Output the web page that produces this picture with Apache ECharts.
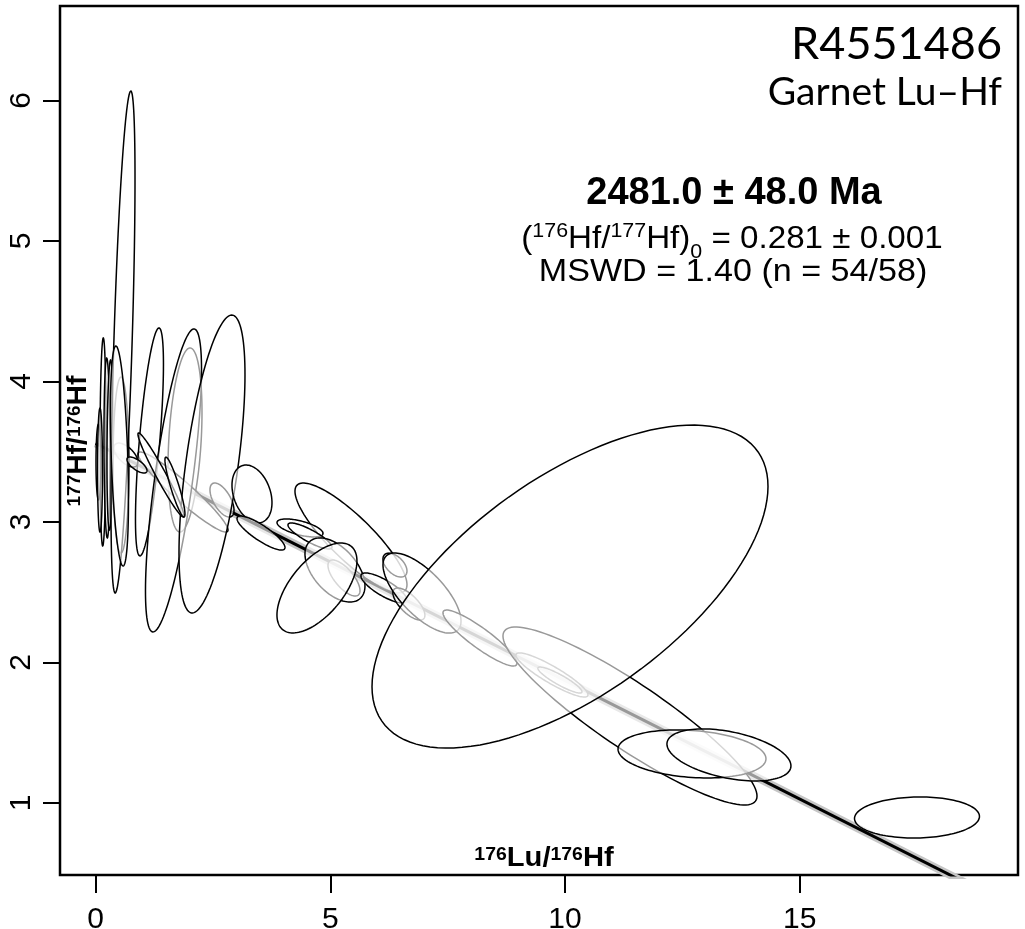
<!DOCTYPE html>
<html><head><meta charset="utf-8">
<script src="https://cdn.jsdelivr.net/npm/echarts@6/dist/echarts.min.js"></script>
<style>html,body{margin:0;padding:0;background:#fff}#c{width:1025px;height:929px}</style>
</head><body><div id="c"></div>
<script>
// tick values
const xTicks = [0, 5, 10, 15];
const yTicks = [1, 2, 3, 4, 5, 6];
// isochron line end points
const isoX = [0, 18.6];
const isoY = [3.559, 0.421];
// error ellipses: centre, half-extent in x and y, correlation (drawing order)
const ellX   = [0.648,0.541,1.905,1.862,2.693, 0.158,0.243,0.062,0.094,0.307, 0.584,0.509,1.148,1.660,2.480, 0.882,1.393,1.691, 5.441,3.332,3.524,4.355,4.568,5.292,5.100,4.716,6.144,6.378,6.675,6.954, 8.189,9.723,9.893,11.385,10.107,12.706,13.493,17.499];
const ellY   = [3.476,3.405,3.583,3.213,3.156, 3.569,3.526,3.426,3.369,3.547, 4.280,3.469,3.569,3.295,3.412, 3.405,3.334,3.248, 2.886,3.199,2.921,2.957,2.900,2.601,2.658,2.530,2.530,2.693,2.416,2.494, 2.174,1.911,1.875,1.619,2.540,1.349,1.342,0.897];
const ellSX  = [0.256,0.170,0.362,0.959,0.256, 0.064,0.064,0.053,0.053,0.064, 0.256,0.192,0.298,0.597,0.703, 0.213,0.490,0.213, 1.193,0.426,0.511,0.490,0.469,0.341,0.639,0.852,0.490,0.256,0.341,0.831, 0.788,0.767,0.469,2.706,4.218,1.576,1.321,1.331];
const ellSY  = [0.085,0.626,0.655,0.285,0.121, 0.740,0.640,0.270,0.441,0.605, 1.786,0.783,0.811,1.078,1.060, 0.057,0.299,0.213, 0.391,0.206,0.121,0.064,0.0925,0.128,0.228,0.320,0.107,0.085,0.114,0.285, 0.199,0.157,0.0925,0.633,1.149,0.171,0.185,0.146];
const ellRho = [-0.6,0.0,0.3,-0.95,-0.6, 0.1,-0.1,0.0,0.0,0.2, 0.65,-0.4,0.68,0.73,0.60, -0.7,-0.97,-0.9, -0.85,-0.3,-0.85,-0.6,-0.85,-0.7,-0.5,0.6,-0.8,-0.5,-0.7,-0.7, -0.9,-0.9,-0.9,-0.9,0.62,-0.2,-0.42,0.05];

const XMIN = -0.758, XMAX = 19.651, YMIN = 0.4877, YMAX = 6.671;
const FONT = 'Liberation Sans';

const chart = echarts.init(document.getElementById('c'));

function renderEllipse(params, api) {
  const i = params.dataIndex;
  const r = ellRho[i], s = Math.sqrt(1 - r * r);
  const pts = [];
  const n = 120;
  for (let k = 0; k < n; k++) {
    const t = 2 * Math.PI * k / n;
    const x = ellX[i] + ellSX[i] * Math.cos(t);
    const y = ellY[i] + ellSY[i] * (r * Math.cos(t) + s * Math.sin(t));
    pts.push(api.coord([x, y]));
  }
  return {
    type: 'polygon',
    shape: { points: pts },
    style: { fill: 'rgba(255,255,255,0.6)', stroke: '#000', lineWidth: 1.5 }
  };
}

const isoData = isoX.map((x, i) => [x, isoY[i]]);
const ellData = ellX.map((x, i) => [x, ellY[i]]);

const option = {
  animation: false,
  backgroundColor: '#fff',
  grid: { left: 60, top: 6, width: 958, height: 869, outerBoundsMode: 'none', containLabel: false, show: true, borderColor: '#000', borderWidth: 2.5, backgroundColor: 'transparent' },
  xAxis: {
    type: 'value', min: XMIN, max: XMAX,
    axisLine: { show: false, onZero: false },
    splitLine: { show: false },
    axisTick: { show: true, length: 18, lineStyle: { color: '#000', width: 2 }, customValues: xTicks },
    axisLabel: { customValues: xTicks, fontSize: 30, color: '#000', fontFamily: FONT, margin: 30 }
  },
  yAxis: {
    type: 'value', min: YMIN, max: YMAX,
    axisLine: { show: false, onZero: false },
    splitLine: { show: false },
    axisTick: { show: true, length: 17, lineStyle: { color: '#000', width: 2 }, customValues: yTicks },
    axisLabel: { customValues: yTicks, rotate: 90, fontSize: 30, color: '#000', fontFamily: FONT, margin: 23 }
  },
  series: [
    { type: 'line', data: isoData, symbol: 'none', z: 1, silent: true, lineStyle: { color: '#c6c6c6', width: 8, cap: 'butt' } },
    { type: 'line', data: isoData, symbol: 'none', z: 1, silent: true, lineStyle: { color: '#000', width: 3, cap: 'butt' } },
    { type: 'custom', data: ellData, renderItem: renderEllipse, z: 2, clip: true, silent: true }
  ],
  graphic: [
    { type: 'text', x: 1002, y: 44, style: { text: 'R4551486', fontSize: 45, fontFamily: 'Lato', fill: '#000', align: 'right', verticalAlign: 'middle' } },
    { type: 'text', x: 1002, y: 92, style: { text: 'Garnet Lu–Hf', fontSize: 39, fontFamily: 'Lato', fill: '#000', align: 'right', verticalAlign: 'middle' } },
    { type: 'text', x: 734, y: 194, style: { text: '2481.0 ± 48.0 Ma', fontSize: 38, fontWeight: 'bold', fontFamily: FONT, fill: '#000', align: 'center', verticalAlign: 'middle' } },
    { type: 'text', x: 732, y: 221, scaleX: 1.07,
      style: { text: '({s|176}Hf/{s|177}Hf){b|0} = 0.281 ± 0.001', fontSize: 31, fontFamily: FONT, fill: '#000', align: 'center', verticalAlign: 'top', lineHeight: 36,
        rich: { s: { fontSize: 20, fontFamily: FONT, fill: '#000', verticalAlign: 'top', height: 20, lineHeight: 36 },
                b: { fontSize: 20, fontFamily: FONT, fill: '#000', verticalAlign: 'bottom', height: 9, lineHeight: 36 } } } },
    { type: 'text', x: 733, y: 272, scaleX: 1.1, style: { text: 'MSWD = 1.40 (n = 54/58)', fontSize: 31, fontFamily: FONT, fill: '#000', align: 'center', verticalAlign: 'middle' } },
    { type: 'text', x: 544, y: 843, scaleX: 1.08,
      style: { text: '{s|176}Lu/{s|176}Hf', fontSize: 27, fontWeight: 'bold', fontFamily: FONT, fill: '#000', align: 'center', verticalAlign: 'top', lineHeight: 32,
        rich: { s: { fontSize: 18, fontWeight: 'bold', fontFamily: FONT, fill: '#000', verticalAlign: 'top', height: 25, lineHeight: 32 } } } },
    { type: 'text', x: 79, y: 441, rotation: Math.PI / 2, scaleX: 1.05,
      style: { text: '{s|177}Hf/{s|176}Hf', fontSize: 27, fontWeight: 'bold', fontFamily: FONT, fill: '#000', align: 'center', verticalAlign: 'middle', lineHeight: 32,
        rich: { s: { fontSize: 18, fontWeight: 'bold', fontFamily: FONT, fill: '#000', verticalAlign: 'top', height: 25, lineHeight: 32 } } } }
  ]
};
chart.setOption(option);
</script>
</body></html>
